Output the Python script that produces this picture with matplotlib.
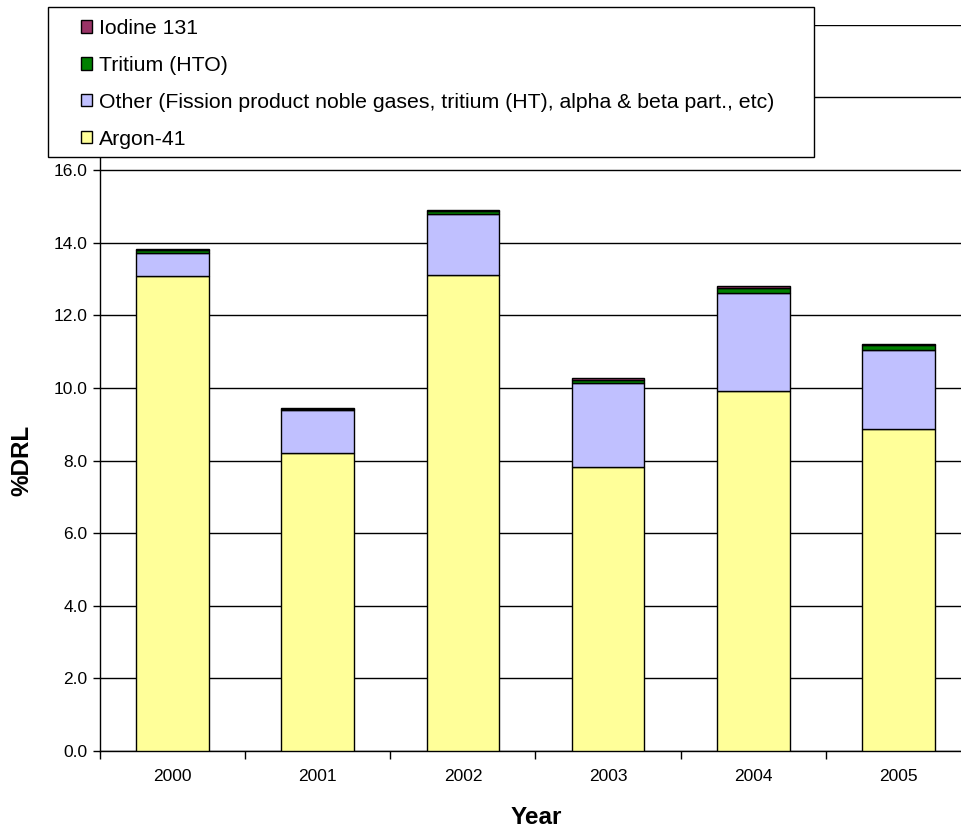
import matplotlib.pyplot as plt
from matplotlib.patches import Rectangle
import numpy as np

plt.rcParams['font.family'] = ['Liberation Sans', 'DejaVu Sans']

# Annual airborne emissions, %DRL by component
years = ['2000', '2001', '2002', '2003', '2004', '2005']
argon41 = [13.09, 8.22, 13.10, 7.83, 9.92, 8.88]
other = [0.62, 1.17, 1.68, 2.30, 2.70, 2.17]
tritium_hto = [0.10, 0.04, 0.10, 0.10, 0.12, 0.12]
iodine131 = [0.02, 0.02, 0.02, 0.04, 0.08, 0.04]

series = [
    ('Argon-41', argon41, '#FFFF99'),
    ('Other (Fission product noble gases, tritium (HT), alpha & beta part., etc)', other, '#C0C0FF'),
    ('Tritium (HTO)', tritium_hto, '#008000'),
    ('Iodine 131', iodine131, '#993366'),
]

W, H = 962, 835
fig = plt.figure(figsize=(W / 100, H / 100), dpi=100)
ax = fig.add_axes([100 / W, 1 - 751 / H, 871 / W, (751 - 24.8) / H])

x = np.arange(len(years))
bottom = np.zeros(len(years))
handles = []
for name, vals, color in series:
    b = ax.bar(x, vals, width=0.5, bottom=bottom, color=color,
               edgecolor='black', linewidth=1, label=name, zorder=3)
    handles.append(b)
    bottom += np.array(vals)

ax.set_xlim(-0.5, 5.5)
ax.set_ylim(0, 20)
ax.set_yticks(np.arange(0, 21, 2))
ax.set_yticklabels([f'{v:.1f}' for v in np.arange(0, 21, 2)])
ax.yaxis.grid(True, color='black', linewidth=1)
ax.set_axisbelow(True)

ax.set_xticks(x)
ax.set_xticklabels(years)
ax.set_xticks(np.arange(-0.5, 6, 1), minor=True)
ax.tick_params(axis='x', which='major', length=0, pad=13, labelsize=12.5)
ax.tick_params(axis='x', which='minor', length=6, width=1, direction='out')
ax.tick_params(axis='y', length=5, width=1, direction='out', pad=4, labelsize=12.5)

for s in ['top', 'right']:
    ax.spines[s].set_visible(False)
for s in ['left', 'bottom']:
    ax.spines[s].set_linewidth(1)

fig.text(536 / W, 1 - 818 / H, 'Year', ha='center', va='center',
         fontsize=17.5, fontweight='bold')
fig.text(22 / W, 1 - 460 / H, '%DRL', ha='center', va='center',
         rotation=90, fontsize=17.5, fontweight='bold')

# legend box over the top of the plot
box = Rectangle((48 / W, 1 - 157 / H), (814 - 48) / W, 150 / H,
                transform=fig.transFigure, facecolor='white',
                edgecolor='black', linewidth=1, zorder=5)
fig.patches.append(box)

leg = fig.legend(handles[::-1], [s[0] for s in series[::-1]],
                 loc='upper left', bbox_to_anchor=(70 / W, 1 - 8.5 / H),
                 frameon=False, fontsize=15.3, borderpad=0,
                 handlelength=0.52, handleheight=0.52, handletextpad=0.33,
                 labelspacing=0.84)
leg.set_zorder(6)

fig.savefig('out.png', dpi=100)
